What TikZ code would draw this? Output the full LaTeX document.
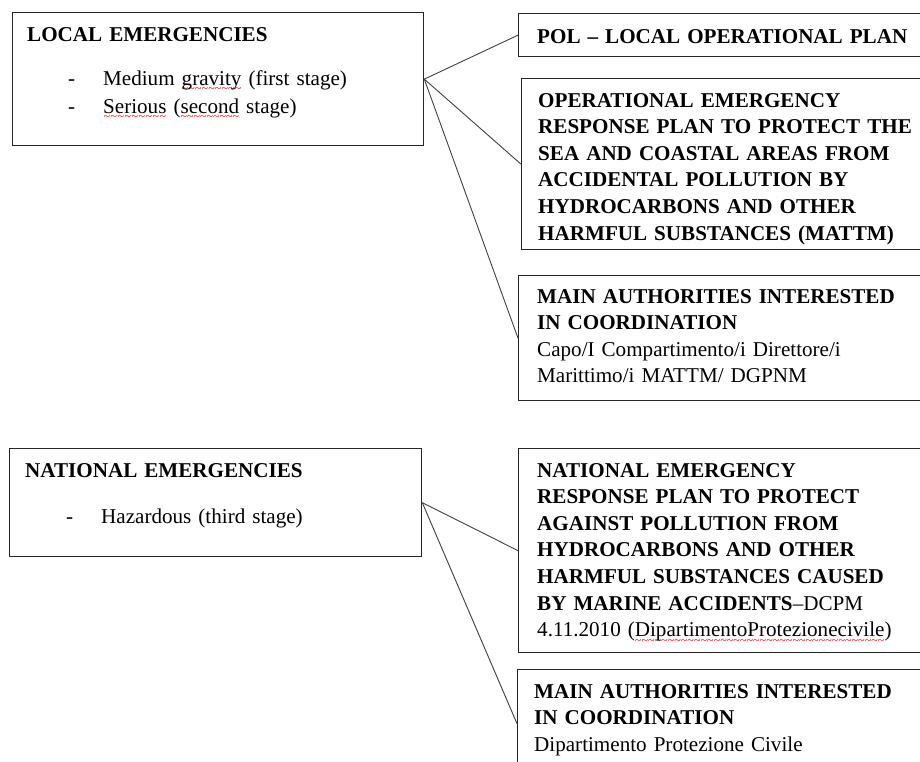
\documentclass[tikz,border=0pt]{standalone}
\usepackage{fontspec}
\setmainfont{Liberation Serif}
\usepackage{xcolor}
\usepackage{tikz}
\usetikzlibrary{positioning}

\newcommand\redwave[1]{\setbox0\hbox{#1}\rlap{\raisebox{-7.5pt}{\textcolor{red}{\hbox to \wd0{\xleaders\hbox{\fontsize{12}{12}\selectfont\textasciitilde}\hfill}}}}#1}
\newcommand\stageitem[1]{\hspace*{41pt}\makebox[35pt][l]{-}#1}

\begin{document}
\begin{tikzpicture}[x=1pt,y=-1pt,
  box/.style={draw=black!85,line width=1.3pt,inner sep=0pt,anchor=north west},
  txt/.style={inner sep=0pt,align=left,text width=390pt,font=\fontsize{21.1}{26.6}\selectfont},
  link/.style={draw=black!75,line width=0.9pt}]
\useasboundingbox (0,0) rectangle (920,762);
% local emergencies
\begin{scope}
\node[box,minimum width=411,minimum height=133] (local) at (12,12) {};
\node[txt,below right=15pt and 15pt of local.north west] (localtxt) {\textbf{LOCAL EMERGENCIES}\\[17.6pt]
\stageitem{Medium \redwave{gravity} (first stage)}\\[1.4pt]
\stageitem{\redwave{Serious} (\redwave{second} stage)}};
\node[box,minimum width=420,minimum height=43] (pol) at (518,13) {};
\node[txt,below right=16pt and 19pt of pol.north west] (poltxt) {\textbf{POL -- LOCAL OPERATIONAL PLAN}};
\node[box,minimum width=420,minimum height=171] (opplan) at (521,78) {};
\node[txt,below right=15pt and 17pt of opplan.north west] (opplantxt) {\textbf{OPERATIONAL EMERGENCY}\\
\textbf{RESPONSE PLAN TO PROTECT THE}\\
\textbf{SEA AND COASTAL AREAS FROM}\\
\textbf{ACCIDENTAL POLLUTION BY}\\
\textbf{HYDROCARBONS AND OTHER}\\
\textbf{HARMFUL SUBSTANCES (MATTM)}};
\node[box,minimum width=420,minimum height=125] (authlocal) at (518,275) {};
\node[txt,below right=14pt and 19pt of authlocal.north west] (authlocaltxt) {\textbf{MAIN AUTHORITIES INTERESTED}\\
\textbf{IN COORDINATION}\\
Capo/I Compartimento/i Direttore/i\\
Marittimo/i MATTM/ DGPNM};
\draw[link] (local.east) -- (pol.west);
\draw[link] (local.east) -- (opplan.west);
\draw[link] (local.east) -- (authlocal.west);
\end{scope}
% national emergencies
\begin{scope}
\node[box,minimum width=412,minimum height=108] (national) at (9,448) {};
\node[txt,below right=15pt and 16pt of national.north west] (nationaltxt) {\textbf{NATIONAL EMERGENCIES}\\[19.4pt]
\stageitem{Hazardous (third stage)}};
\node[box,minimum width=420,minimum height=204] (natplan) at (518,448) {};
\node[txt,below right=15pt and 19pt of natplan.north west] (natplantxt) {\textbf{NATIONAL EMERGENCY}\\
\textbf{RESPONSE PLAN TO PROTECT}\\
\textbf{AGAINST POLLUTION FROM}\\
\textbf{HYDROCARBONS AND OTHER}\\
\textbf{HARMFUL SUBSTANCES CAUSED}\\
\textbf{BY MARINE ACCIDENTS}--DCPM\\
4.11.2010 (\redwave{DipartimentoProtezionecivile})};
\node[box,minimum width=420,minimum height=108] (authnat) at (517,669) {};
\node[txt,below right=15pt and 17pt of authnat.north west] (authnattxt) {\textbf{MAIN AUTHORITIES INTERESTED}\\
\textbf{IN COORDINATION}\\
Dipartimento Protezione Civile};
\draw[link] (national.east) -- (natplan.west);
\draw[link] (national.east) -- (authnat.west);
\end{scope}
\end{tikzpicture}
\end{document}
